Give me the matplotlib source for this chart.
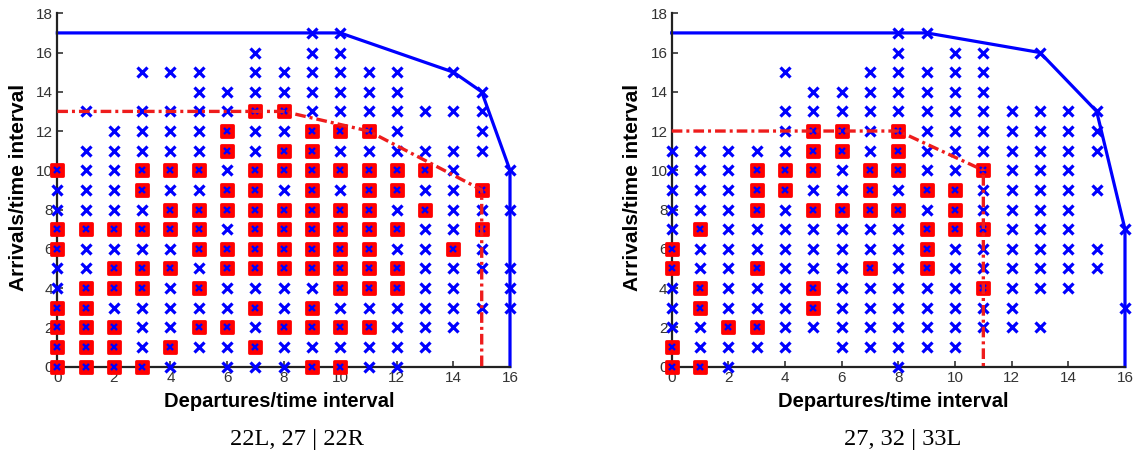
import matplotlib
matplotlib.use("Agg")
import matplotlib.pyplot as plt
from matplotlib.markers import MarkerStyle

W, H = 1133, 461

# ---- Panel 1: 22L, 27 | 22R -------------------------------------------
left_title = "22L, 27 | 22R"
left_departures = [0, 1, 2, 3, 4, 5, 6, 7, 8, 9, 10, 11, 12, 13, 14, 15, 16]
# arrivals observed for each departure count
left_observed = [
    [0, 1, 2, 3, 4, 5, 6, 7, 8, 9, 10],
    [0, 1, 2, 3, 4, 5, 6, 7, 8, 9, 10, 11, 13],
    [0, 1, 2, 3, 4, 5, 6, 7, 8, 9, 10, 11, 12],
    [0, 1, 2, 3, 4, 5, 6, 7, 8, 9, 10, 11, 12, 13, 15],
    [0, 1, 2, 3, 4, 5, 6, 7, 8, 9, 10, 11, 12, 13, 15],
    [1, 2, 3, 4, 5, 6, 7, 8, 9, 10, 11, 12, 13, 14, 15],
    [0, 1, 2, 3, 4, 5, 6, 7, 8, 9, 10, 11, 12, 13, 14],
    [0, 1, 2, 3, 4, 5, 6, 7, 8, 9, 10, 11, 12, 13, 14, 15, 16],
    [0, 1, 2, 3, 4, 5, 6, 7, 8, 9, 10, 11, 12, 13, 14, 15],
    [0, 1, 2, 3, 4, 5, 6, 7, 8, 9, 10, 11, 12, 13, 14, 15, 16, 17],
    [0, 1, 2, 3, 4, 5, 6, 7, 8, 9, 10, 11, 12, 13, 14, 15, 16, 17],
    [0, 1, 2, 3, 4, 5, 6, 7, 8, 9, 10, 11, 12, 13, 14, 15],
    [0, 1, 2, 3, 4, 5, 6, 7, 8, 9, 10, 11, 12, 13, 14, 15],
    [1, 2, 3, 4, 5, 6, 7, 8, 9, 10, 11, 13],
    [2, 3, 4, 5, 6, 7, 8, 9, 10, 11, 13, 15],
    [3, 5, 6, 7, 8, 9, 11, 12, 13, 14],
    [3, 4, 5, 8, 10],
]
# arrivals in the selected configuration for each departure count
left_selected = [
    [0, 1, 2, 3, 6, 7, 10],
    [0, 1, 2, 3, 4, 7],
    [0, 1, 2, 4, 5, 7],
    [0, 4, 5, 7, 9, 10],
    [1, 5, 7, 8, 10],
    [2, 4, 6, 7, 8, 10],
    [2, 5, 6, 8, 9, 11, 12],
    [1, 3, 5, 6, 7, 8, 9, 10, 13],
    [2, 5, 6, 7, 8, 10, 11, 13],
    [0, 2, 3, 5, 6, 7, 8, 9, 10, 11, 12],
    [0, 2, 4, 5, 6, 7, 8, 10, 12],
    [2, 4, 5, 6, 7, 8, 9, 10, 12],
    [4, 5, 7, 9, 10],
    [8, 10],
    [6],
    [7, 9],
    [],
]
left_envelope_dep = [0, 10, 14, 15, 16, 16]
left_envelope_arr = [17, 17, 15, 14, 10, 0]
left_selected_env_dep = [0, 8, 11, 15, 15]
left_selected_env_arr = [13, 13, 12, 9, 0]

# ---- Panel 2: 27, 32 | 33L --------------------------------------------
right_title = "27, 32 | 33L"
right_departures = [0, 1, 2, 3, 4, 5, 6, 7, 8, 9, 10, 11, 12, 13, 14, 15, 16]
right_observed = [
    [0, 1, 2, 3, 4, 5, 6, 7, 8, 9, 10, 11],
    [0, 1, 2, 3, 4, 5, 6, 7, 8, 9, 10, 11],
    [0, 1, 2, 3, 4, 5, 6, 7, 8, 9, 10, 11],
    [1, 2, 3, 4, 5, 6, 7, 8, 9, 10, 11],
    [1, 2, 3, 4, 5, 6, 7, 8, 9, 10, 11, 12, 13, 15],
    [2, 3, 4, 5, 6, 7, 8, 9, 10, 11, 12, 13, 14],
    [1, 2, 3, 4, 5, 6, 7, 8, 9, 10, 11, 12, 13, 14],
    [1, 2, 3, 4, 5, 6, 7, 8, 9, 10, 11, 12, 13, 14, 15],
    [0, 1, 2, 3, 4, 5, 6, 7, 8, 9, 10, 11, 12, 13, 14, 15, 16, 17],
    [1, 2, 3, 4, 5, 6, 7, 8, 9, 10, 11, 12, 13, 14, 15, 17],
    [1, 2, 3, 4, 5, 6, 7, 8, 9, 10, 11, 12, 13, 14, 15, 16],
    [2, 3, 4, 5, 6, 7, 8, 9, 10, 11, 12, 13, 14, 15, 16],
    [2, 3, 4, 5, 6, 7, 8, 9, 10, 11, 12, 13],
    [2, 4, 5, 6, 7, 8, 9, 10, 11, 12, 13, 16],
    [4, 5, 6, 7, 8, 9, 10, 11, 12, 13],
    [5, 6, 9, 11, 12, 13],
    [3, 7],
]
right_selected = [
    [0, 1, 5, 6],
    [0, 3, 4, 7],
    [2],
    [2, 5, 8, 9, 10],
    [9, 10],
    [3, 4, 8, 10, 11, 12],
    [8, 11, 12],
    [5, 8, 9, 10],
    [8, 10, 11, 12],
    [5, 6, 7, 9],
    [7, 8, 9],
    [4, 7, 10],
    [],
    [],
    [],
    [],
    [],
]
right_envelope_dep = [0, 9, 13, 15, 16, 16]
right_envelope_arr = [17, 17, 16, 13, 7, 0]
right_selected_env_dep = [0, 8, 11, 11]
right_selected_env_arr = [12, 12, 10, 0]

x_ticks = [0, 2, 4, 6, 8, 10, 12, 14, 16]
y_ticks = [0, 2, 4, 6, 8, 10, 12, 14, 16, 18]
x_label = "Departures/time interval"
y_label = "Arrivals/time interval"

BLUE = "#0000ff"
RED = "#ff0000"

plt.rcParams["font.family"] = ["Liberation Sans", "DejaVu Sans"]

fig = plt.figure(figsize=(W / 100, H / 100), dpi=100)


def px_rect(x0, x1, ytop, ybot):
    return [x0 / W, 1 - ybot / H, (x1 - x0) / W, (ybot - ytop) / H]


def draw_panel(rect, deps, observed, selected, env_d, env_a, sel_d, sel_a,
               title, title_x):
    ax = fig.add_axes(rect)
    ax.set_xlim(0, 16)
    ax.set_ylim(0, 18)

    # capacity envelope
    ax.plot(env_d, env_a, color=BLUE, lw=2.3, zorder=2, clip_on=False,
            solid_joinstyle="round")

    plain_x, plain_y, sel_x, sel_y = [], [], [], []
    for d, obs, sel in zip(deps, observed, selected):
        for a in obs:
            if a in sel:
                sel_x.append(d)
                sel_y.append(a)
            else:
                plain_x.append(d)
                plain_y.append(a)

    sq = MarkerStyle("s", joinstyle="round")
    ax.plot(sel_x, sel_y, linestyle="none", marker=sq, markersize=9.2,
            markerfacecolor=RED, markeredgecolor=RED, markeredgewidth=2.0,
            zorder=3, clip_on=False)
    ax.plot(sel_x, sel_y, linestyle="none", marker="x", markersize=4.2,
            markeredgecolor=BLUE, markeredgewidth=1.7, zorder=4, clip_on=False)
    ax.plot(plain_x, plain_y, linestyle="none", marker="x", markersize=7.2,
            markeredgecolor=BLUE, markeredgewidth=2.3, zorder=4, clip_on=False)

    # envelope of the selected configuration
    ax.plot(sel_d, sel_a, color="#ee1c1c", lw=2.4, zorder=6, clip_on=False,
            linestyle=(0, (3.2, 1.2, 0.9, 1.2)), dash_capstyle="butt")

    ax.set_xticks(x_ticks)
    ax.set_yticks(y_ticks)
    ax.tick_params(direction="in", length=4, width=1.2, colors="#333333",
                   labelsize=11, pad=3)
    for s in ("top", "right"):
        ax.spines[s].set_visible(False)
    for s in ("left", "bottom"):
        ax.spines[s].set_linewidth(1.6)
        ax.spines[s].set_color("#222222")
    ax.patch.set_alpha(0)

    x0 = rect[0] * W
    fig.text((x0 - 39) / W, 1 - 187 / H, y_label, rotation=90,
             ha="center", va="center", fontsize=15, fontweight="bold")
    fig.text((x0 + 222) / W, 1 - 401 / H, x_label, ha="center",
             va="center", fontsize=14.5, fontweight="bold")
    fig.text(title_x / W, 1 - 439 / H, title, ha="center", va="center",
             fontsize=17.5, family=["Liberation Serif", "DejaVu Serif"])
    return ax


draw_panel(px_rect(57.3, 510.0, 13.3, 366.5), left_departures, left_observed,
           left_selected, left_envelope_dep, left_envelope_arr,
           left_selected_env_dep, left_selected_env_arr, left_title, 297)
draw_panel(px_rect(671.7, 1125.0, 13.3, 366.5), right_departures,
           right_observed, right_selected, right_envelope_dep,
           right_envelope_arr, right_selected_env_dep,
           right_selected_env_arr, right_title, 903)

fig.savefig("out.png", dpi=100)
